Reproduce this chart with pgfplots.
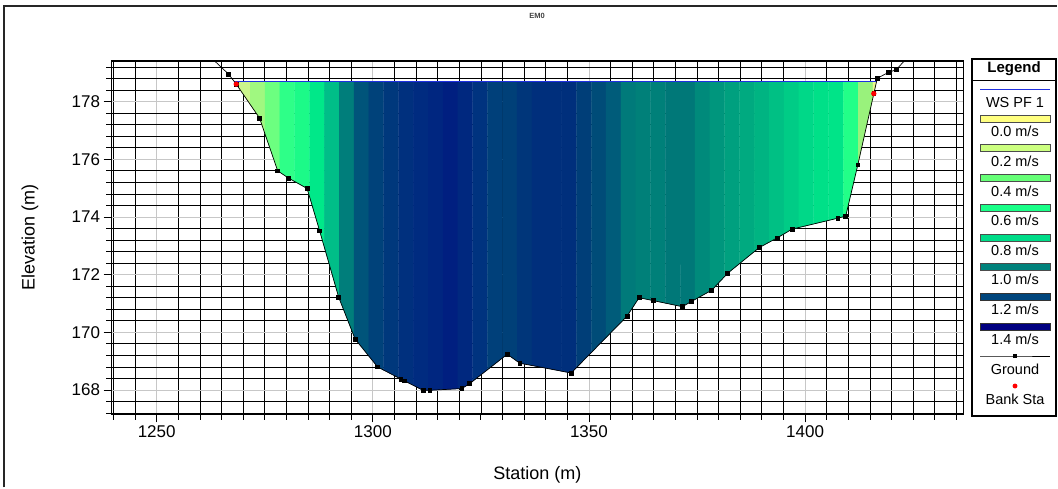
\documentclass[border=0pt]{standalone}
\usepackage{fontspec}
\setmainfont{Liberation Sans}
\usepackage{pgfplots}
\pgfplotsset{compat=1.18}
\usepgfplotslibrary{fillbetween}

% velocity shading of the flow slices
\definecolor{v00}{HTML}{CCF58C}\definecolor{v01}{HTML}{A0F880}\definecolor{v02}{HTML}{6CFF80}
\definecolor{v03}{HTML}{2EFF88}\definecolor{v04}{HTML}{1CFA88}\definecolor{v05}{HTML}{00E889}
\definecolor{v06}{HTML}{00BE88}\definecolor{v07}{HTML}{007E7B}\definecolor{v08}{HTML}{00547A}
\definecolor{v09}{HTML}{00427A}\definecolor{v10}{HTML}{00387C}\definecolor{v11}{HTML}{00307E}
\definecolor{v12}{HTML}{002B80}\definecolor{v13}{HTML}{002680}\definecolor{v14}{HTML}{001F80}
\definecolor{v15}{HTML}{00287F}\definecolor{v16}{HTML}{00337F}\definecolor{v17}{HTML}{00407A}
\definecolor{v18}{HTML}{004078}\definecolor{v19}{HTML}{00367A}\definecolor{v20}{HTML}{002F7C}
\definecolor{v21}{HTML}{002F7C}\definecolor{v22}{HTML}{002F7C}\definecolor{v23}{HTML}{003E78}
\definecolor{v24}{HTML}{004C78}\definecolor{v25}{HTML}{005C7A}\definecolor{v26}{HTML}{007A7A}
\definecolor{v27}{HTML}{008079}\definecolor{v28}{HTML}{008079}\definecolor{v29}{HTML}{007878}
\definecolor{v30}{HTML}{007878}\definecolor{v31}{HTML}{008A7B}\definecolor{v32}{HTML}{00967D}
\definecolor{v33}{HTML}{00A07F}\definecolor{v34}{HTML}{00AA80}\definecolor{v35}{HTML}{00B482}
\definecolor{v36}{HTML}{00C084}\definecolor{v37}{HTML}{00CC86}\definecolor{v38}{HTML}{00D888}
\definecolor{v39}{HTML}{00E088}\definecolor{v40}{HTML}{00E488}\definecolor{v41}{HTML}{22FF88}
\definecolor{v42}{HTML}{99F27C}\definecolor{v43}{HTML}{E8F890}
% legend scale
\definecolor{l00}{HTML}{FFFF80}\definecolor{l02}{HTML}{CCFF80}\definecolor{l04}{HTML}{66FF77}
\definecolor{l06}{HTML}{1AFF88}\definecolor{l08}{HTML}{00DC88}\definecolor{l10}{HTML}{00827C}
\definecolor{l12}{HTML}{00457C}\definecolor{l14}{HTML}{000080}
\definecolor{wsblue}{HTML}{2030E0}

\tikzset{lg/.style={font=\fontsize{14.5}{14.5}\selectfont, anchor=base}}

% one vertical flow slice between the bed and the water surface
\newcommand{\band}[3]{\addplot[fill=#1, draw=#1, line width=0.3pt]
  fill between[of=ground and ws,
    soft clip={(axis cs:#2,166) rectangle (axis cs:#3,181)}];}

\begin{document}
\begin{tikzpicture}

\begin{axis}[
  at={(111.5pt,-61pt)}, anchor=north west,
  scale only axis, width=851.8pt, height=353.3pt,
  xmin=1239.55, xmax=1436.6, ymin=167.157, ymax=179.41,
  xtick={1250,1300,1350,1400},
  ytick={168,170,172,174,176,178},
  minor xtick={1240,1245,1255,1260,...,1295,1305,1310,...,1345,1355,1360,...,1395,1405,1410,...,1435},
  minor ytick={167.2,167.6,168.4,168.8,169.2,169.6,170.4,170.8,171.2,171.6,172.4,172.8,
    173.2,173.6,174.4,174.8,175.2,175.6,176.4,176.8,177.2,177.6,178.4,178.8,179.2},
  grid=both,
  major grid style={draw=black!22, line width=0.8pt},
  minor grid style={draw=black, line width=0.75pt},
  xtick pos=bottom, ytick pos=left,
  tick align=outside,
  major tick length=8pt, minor tick length=5.5pt,
  tick style={black, line width=0.8pt},
  axis line style={black, line width=1.6pt},
  tick label style={font=\fontsize{17}{17}\selectfont, black},
  /pgf/number format/assume math mode=true,
  /pgf/number format/1000 sep={},
  xlabel={Station (m)}, ylabel={Elevation (m)},
  label style={font=\fontsize{18}{18}\selectfont},
  xlabel style={at={(axis description cs:0.5,-0.172)}, anchor=center},
  ylabel style={at={(axis description cs:-0.0957,0.5)}, anchor=center},
]
% channel bed and water surface as named boundaries
\addplot[draw=none, name path=ground, forget plot] coordinates {
 (1261.0,179.75) (1266.6,178.96) (1268.4,178.61) (1273.8,177.43) (1278.0,175.60)
 (1280.5,175.35) (1284.8,174.99) (1287.7,173.52) (1292.1,171.22) (1295.9,169.77)
 (1301.1,168.80) (1306.5,168.38) (1307.3,168.32) (1311.6,167.99) (1313.2,167.99)
 (1320.6,168.05) (1322.4,168.22) (1331.1,169.24) (1334.0,168.93) (1345.9,168.59)
 (1358.8,170.56) (1361.6,171.20) (1364.9,171.10) (1371.6,170.89) (1373.7,171.07)
 (1378.4,171.46) (1382.1,172.05) (1389.4,172.94) (1393.6,173.28) (1397.0,173.58)
 (1407.6,173.96) (1409.4,174.03) (1412.2,175.81) (1415.9,178.28) (1416.7,178.81)
 (1419.2,179.01) (1421.1,179.11) (1425.0,179.75)};
\addplot[draw=none, name path=ws, forget plot] coordinates {(1267.9,178.70) (1416.53,178.70)};

% velocity slices
\band{v00}{1267.90}{1271.64}\band{v01}{1271.64}{1275.07}\band{v02}{1275.07}{1278.50}
\band{v03}{1278.50}{1281.93}\band{v04}{1281.93}{1285.36}\band{v05}{1285.36}{1288.80}
\band{v06}{1288.80}{1292.23}\band{v07}{1292.23}{1295.66}\band{v08}{1295.66}{1299.09}
\band{v09}{1299.09}{1302.52}\band{v10}{1302.52}{1305.95}\band{v11}{1305.95}{1309.38}
\band{v12}{1309.38}{1312.81}\band{v13}{1312.81}{1316.24}\band{v14}{1316.24}{1319.67}
\band{v15}{1319.67}{1323.10}\band{v16}{1323.10}{1326.53}\band{v17}{1326.53}{1329.96}
\band{v18}{1329.96}{1333.39}\band{v19}{1333.39}{1336.82}\band{v20}{1336.82}{1340.25}
\band{v21}{1340.25}{1343.68}\band{v22}{1343.68}{1347.11}\band{v23}{1347.11}{1350.54}
\band{v24}{1350.54}{1353.97}\band{v25}{1353.97}{1357.40}\band{v26}{1357.40}{1360.83}
\band{v27}{1360.83}{1364.26}\band{v28}{1364.26}{1367.69}\band{v29}{1367.69}{1371.12}
\band{v30}{1371.12}{1374.55}\band{v31}{1374.55}{1377.98}\band{v32}{1377.98}{1381.41}
\band{v33}{1381.41}{1384.84}\band{v34}{1384.84}{1388.27}\band{v35}{1388.27}{1391.70}
\band{v36}{1391.70}{1395.13}\band{v37}{1395.13}{1398.56}\band{v38}{1398.56}{1401.99}
\band{v39}{1401.99}{1405.42}\band{v40}{1405.42}{1408.85}\band{v41}{1408.85}{1412.28}
\band{v42}{1412.28}{1415.71}\band{v43}{1415.71}{1416.53}

% water surface
\addplot[wsblue, line width=1pt] coordinates {(1267.9,178.70) (1416.53,178.70)};
% ground
\addplot[black, line width=0.7pt, mark=square*, mark size=1.9pt] coordinates {
 (1261.0,179.75) (1266.6,178.96) (1268.4,178.61) (1273.8,177.43) (1278.0,175.60)
 (1280.5,175.35) (1284.8,174.99) (1287.7,173.52) (1292.1,171.22) (1295.9,169.77)
 (1301.1,168.80) (1306.5,168.38) (1307.3,168.32) (1311.6,167.99) (1313.2,167.99)
 (1320.6,168.05) (1322.4,168.22) (1331.1,169.24) (1334.0,168.93) (1345.9,168.59)
 (1358.8,170.56) (1361.6,171.20) (1364.9,171.10) (1371.6,170.89) (1373.7,171.07)
 (1378.4,171.46) (1382.1,172.05) (1389.4,172.94) (1393.6,173.28) (1397.0,173.58)
 (1407.6,173.96) (1409.4,174.03) (1412.2,175.81) (1415.9,178.28) (1416.7,178.81)
 (1419.2,179.01) (1421.1,179.11) (1425.0,179.75)};
% bank stations
\addplot[only marks, red, mark=*, mark size=2.4pt] coordinates {(1268.4,178.61) (1415.9,178.28)};
\end{axis}

% frame, title and legend panel (coordinates in pixels from the top left)
\begin{axis}[
  at={(0pt,-488pt)}, anchor=south west,
  scale only axis, width=1058pt, height=488pt,
  xmin=0, xmax=1058, ymin=-488, ymax=0,
  hide axis, clip=false,
]
\path (axis cs:0,0) rectangle (axis cs:1058,-488);
\draw[line width=1.2pt, black!85] (axis cs:4,-487.4) -- (axis cs:4,-6) -- (axis cs:1057.4,-6);
\node[font=\bfseries\fontsize{7.5}{7.5}\selectfont, black!75] at (axis cs:537,-16) {EM0};

\draw[line width=1.3pt, fill=white] (axis cs:972,-59) rectangle (axis cs:1056,-416);
\draw[line width=1pt] (axis cs:972,-80.5) -- (axis cs:1056,-80.5);
\node[lg, font=\bfseries\fontsize{15}{15}\selectfont] at (axis cs:1014,-72.8) {Legend};

\addplot[wsblue, line width=1pt] coordinates {(980,-89.3) (1050,-89.3)};
\node[lg] at (axis cs:1015,-107.9) {WS PF 1};

\draw[fill=l00, draw=black!70, line width=0.75pt] (axis cs:980,-115.1) rectangle (axis cs:1050,-122.1);
\node[lg] at (axis cs:1015,-136.9) {0.0 m/s};
\draw[fill=l02, draw=black!70, line width=0.75pt] (axis cs:980,-144.8) rectangle (axis cs:1050,-151.8);
\node[lg] at (axis cs:1015,-166.5) {0.2 m/s};
\draw[fill=l04, draw=black!70, line width=0.75pt] (axis cs:980,-174.5) rectangle (axis cs:1050,-181.5);
\node[lg] at (axis cs:1015,-196.1) {0.4 m/s};
\draw[fill=l06, draw=black!70, line width=0.75pt] (axis cs:980,-204.2) rectangle (axis cs:1050,-211.2);
\node[lg] at (axis cs:1015,-225.7) {0.6 m/s};
\draw[fill=l08, draw=black!70, line width=0.75pt] (axis cs:980,-233.9) rectangle (axis cs:1050,-240.9);
\node[lg] at (axis cs:1015,-255.3) {0.8 m/s};
\draw[fill=l10, draw=black!70, line width=0.75pt] (axis cs:980,-263.6) rectangle (axis cs:1050,-270.6);
\node[lg] at (axis cs:1015,-284.9) {1.0 m/s};
\draw[fill=l12, draw=black!80, line width=0.75pt] (axis cs:980,-293.3) rectangle (axis cs:1050,-300.3);
\node[lg] at (axis cs:1015,-314.5) {1.2 m/s};
\draw[fill=l14, draw=black!80, line width=0.75pt] (axis cs:980,-323.0) rectangle (axis cs:1050,-330.0);
\node[lg] at (axis cs:1015,-344.1) {1.4 m/s};

\addplot[black, line width=0.8pt, mark=square*, mark size=1.7pt, mark indices={2}]
  coordinates {(980,-356) (1015,-356) (1050,-356)};
\node[lg] at (axis cs:1015,-374.5) {Ground};
\addplot[only marks, red, mark=*, mark size=2.2pt] coordinates {(1015,-386)};
\node[lg] at (axis cs:1015,-404.5) {Bank Sta};
\end{axis}
\end{tikzpicture}
\end{document}
